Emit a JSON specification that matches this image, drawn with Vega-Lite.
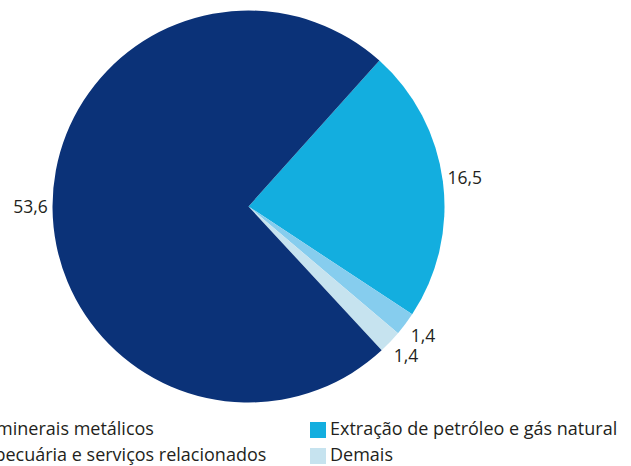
{
  "$schema": "https://vega.github.io/schema/vega-lite/v6.json",
  "width": 497,
  "height": 413,
  "autosize": {"type": "none"},
  "padding": {"left": 0, "top": 0, "right": 134, "bottom": 53},
  "background": "white",
  "data": {
    "values": [
      {"categoria": "Extração de petróleo e gás natural", "valor": 16.5, "ordem": 1},
      {"categoria": "Agricultura, pecuária e serviços relacionados", "valor": 1.4, "ordem": 2},
      {"categoria": "Demais", "valor": 1.4, "ordem": 3},
      {"categoria": "Extração de minerais metálicos", "valor": 53.6, "ordem": 4}
    ]
  },
  "encoding": {
    "theta": {"field": "valor", "type": "quantitative", "stack": true, "scale": {"range": [0.7313, 7.0145]}},
    "order": {"field": "ordem", "type": "quantitative"}
  },
  "layer": [
    {
      "mark": {"type": "arc", "outerRadius": 196, "stroke": null},
      "encoding": {
        "color": {
          "field": "categoria",
          "type": "nominal",
          "scale": {
            "domain": ["Extração de minerais metálicos", "Agricultura, pecuária e serviços relacionados", "Extração de petróleo e gás natural", "Demais"],
            "range": ["#0b3278", "#86cdee", "#13aedf", "#c6e3ef"]
          },
          "legend": {
            "title": null,
            "orient": "none",
            "legendX": -128,
            "legendY": 421,
            "columns": 2,
            "columnPadding": 42,
            "rowPadding": 8,
            "symbolType": "square",
            "symbolSize": 256,
            "symbolStrokeWidth": 0,
            "symbolOpacity": 1,
            "labelFontSize": 18,
            "labelFont": "Open Sans",
            "labelColor": "#231f20",
            "labelOffset": 3,
            "labelLimit": 0
          }
        }
      }
    },
    {
      "mark": {"type": "text", "radius": 218, "font": "Open Sans", "fontSize": 17.5, "color": "#231f20"},
      "encoding": {
        "text": {"field": "valor", "type": "quantitative", "format": ".1f"}
      }
    }
  ],
  "config": {
    "view": {"stroke": null},
    "locale": {"number": {"decimal": ",", "thousands": ".", "grouping": [3], "currency": ["R$", ""]}}
  }
}
